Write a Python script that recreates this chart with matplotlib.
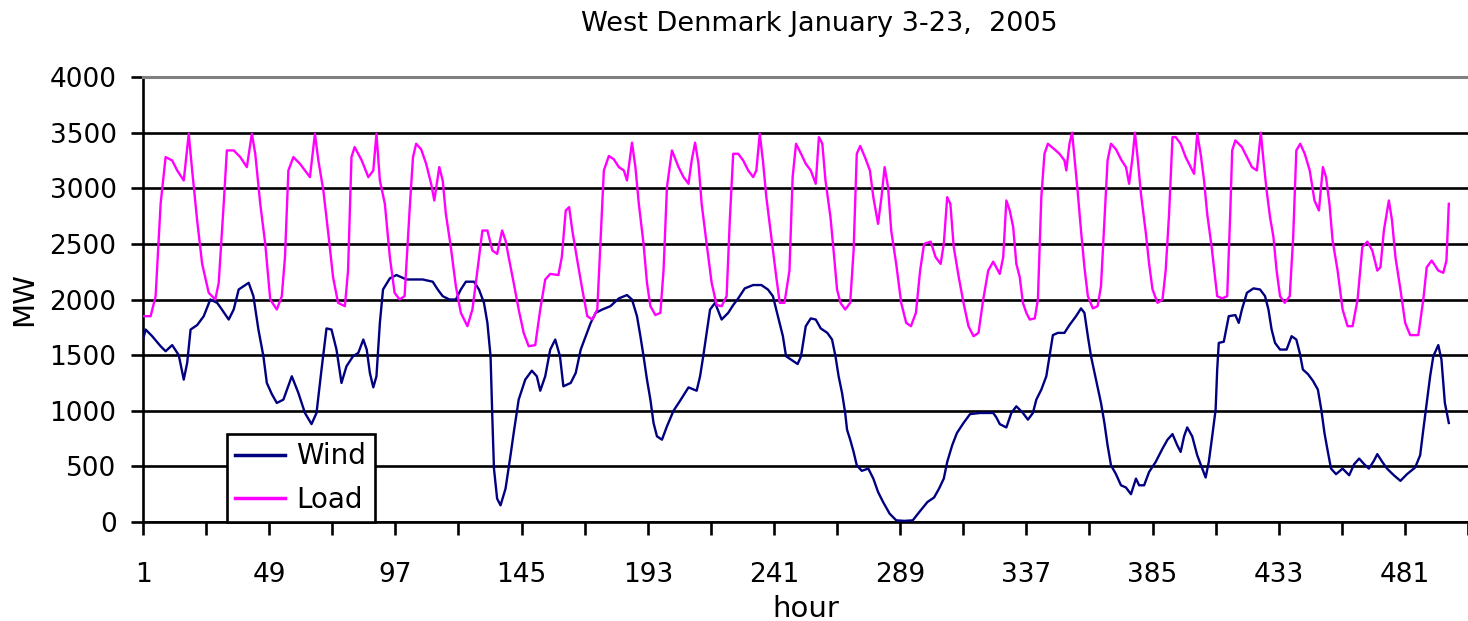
import numpy as np
import matplotlib
matplotlib.use("Agg")
import matplotlib.pyplot as plt

# ==================================================
# DATA
# ==================================================

wind_hours = [
    1, 2, 4.5, 7.7, 9.6, 12.1, 14.6, 16.5, 17.8, 19.1, 21.6, 24.1, 26.6, 29.2, 31, 33.6,
    35.5, 37.4, 41.2, 43, 44.9, 46.8, 48.1, 50, 51.9, 54.4, 57.6, 60.1, 62.6, 65.1, 67,
    68.9, 70.8, 72.7, 74.6, 76.5, 78.4, 80.9, 82.9, 84.8, 86.1, 87.3, 88.6, 89.8, 91.1,
    92.3, 94.9, 97.4, 101.2, 107.4, 111.2, 113.1, 115, 117.5, 120, 121.9, 123.8, 126.9,
    128.8, 130.7, 132, 133.2, 133.9, 134.5, 135.7, 137, 138.9, 140.8, 142, 143.9, 146.4,
    148.9, 150.8, 152.1, 154, 155.9, 157.8, 159.6, 160.9, 163.7, 165.6, 167.5, 169.4,
    171.3, 173.2, 175.7, 178.8, 182, 185.1, 187, 188.9, 190.2, 191.4, 192.7, 194, 195.2,
    196.5, 198.4, 200.3, 202.8, 205.3, 208.5, 211.6, 212.9, 214.1, 215.4, 216.7, 218.6,
    221.1, 223.6, 225.5, 227.4, 229.9, 233.1, 236.2, 238.7, 240.6, 242.5, 244.4, 245.6,
    247.5, 250, 251.3, 253.1, 255, 256.9, 258.8, 261.3, 263.1, 264.4, 265.6, 266.9, 268.1,
    268.8, 270, 271.3, 272.5, 274.4, 276.9, 278.8, 280.6, 282.5, 285, 287.5, 290.6, 293.8,
    296.3, 299.4, 301.9, 303.8, 305.6, 306.9, 308.8, 310.6, 313.1, 315.6, 319.4, 324.4,
    325.6, 326.9, 329.4, 331.3, 333.2, 335.7, 337.6, 339.5, 340.8, 342.7, 344.6, 345.8,
    347.1, 349, 351.5, 353.4, 355.9, 357.8, 359.1, 360.4, 361.6, 363.5, 365.4, 366.7,
    367.9, 369.2, 371.1, 373, 374.9, 376.8, 378.7, 379.9, 381.8, 383.7, 386.2, 388.8,
    390.7, 392.6, 394.4, 395.7, 397, 398.2, 400.1, 402, 403.9, 405.2, 406.4, 407.7, 409,
    409.6, 410.2, 412.1, 414, 416.5, 417.8, 419, 420.9, 423.4, 425.9, 427.8, 429.1, 430.3,
    431.6, 433.5, 436, 437.9, 439.7, 441, 442.2, 444.1, 446, 447.9, 449.2, 450.4, 451.7,
    452.9, 454.8, 457.3, 459.8, 461.7, 463.6, 465.5, 467.3, 469.2, 470.5, 472.4, 474.2,
    476.8, 479.3, 481.8, 484.9, 486.8, 488, 489.3, 490.6, 491.8, 493.7, 494.9, 496.2, 497.7,
]
wind_mw = [
    1640, 1730, 1670, 1580, 1535, 1590, 1500, 1280, 1430, 1730, 1770, 1850, 2000, 1970, 1910, 1820,
    1910, 2090, 2150, 2030, 1730, 1490, 1250, 1150, 1070, 1100, 1310, 1160, 980, 880, 980,
    1370, 1740, 1730, 1550, 1250, 1400, 1490, 1520, 1640, 1550, 1340, 1210, 1310, 1790,
    2090, 2190, 2220, 2180, 2180, 2160, 2090, 2030, 2000, 2000, 2090, 2160, 2160,
    2090, 1970, 1790, 1490, 920, 480, 210, 150, 300, 600, 800, 1100, 1280,
    1360, 1310, 1180, 1310, 1550, 1640, 1490, 1220, 1250, 1340, 1550, 1670,
    1790, 1880, 1910, 1940, 2010, 2040, 2000, 1850, 1670, 1490, 1280, 1100, 890,
    770, 740, 860, 1000, 1090, 1210, 1180, 1310, 1490, 1700, 1910, 1970,
    1820, 1880, 1950, 2010, 2100, 2130, 2130, 2090, 2030, 1850, 1670, 1490,
    1460, 1420, 1490, 1760, 1830, 1820, 1740, 1700, 1640, 1490, 1310, 1160, 980,
    830, 740, 630, 510, 460, 480, 390, 270, 180, 75, 15, 10, 15,
    90, 180, 220, 300, 390, 540, 690, 800, 890, 970, 980, 980,
    940, 880, 850, 980, 1040, 980, 920, 980, 1100, 1190, 1310, 1490,
    1680, 1700, 1700, 1770, 1850, 1920, 1880, 1670, 1490, 1280, 1070, 890,
    690, 510, 430, 330, 310, 250, 390, 330, 330, 450, 540, 660,
    740, 790, 690, 630, 770, 850, 770, 600, 480, 400, 540, 770, 1010,
    1370, 1610, 1620, 1850, 1860, 1790, 1910, 2060, 2100, 2090, 2030, 1910, 1730,
    1610, 1550, 1550, 1670, 1640, 1520, 1370, 1330, 1270, 1190, 1010, 800, 630,
    480, 430, 480, 420, 520, 570, 520, 480, 550, 610, 540, 480,
    420, 370, 430, 490, 600, 830, 1070, 1310, 1490, 1590, 1460, 1070, 890,
]

load_hours = [
    1, 3.9, 5.8, 7.7, 9.6, 12.1, 14, 16.5, 18.4, 19.7, 21.6, 23.5, 26, 28.5, 29.8, 31.7,
    32.9, 35.5, 38, 40.5, 42.4, 43.7, 45.6, 47.5, 49.4, 51.9, 53.8, 55, 56.3, 58.2, 60.7,
    62.6, 64.5, 66.4, 67.7, 69.6, 71.5, 73.3, 75.2, 77.8, 79, 80.3, 81.5, 84.2, 86.7, 88.6,
    89.8, 91.1, 93, 94.9, 96.7, 98.6, 100.5, 102.4, 103.7, 104.9, 106.8, 108.7, 110.6,
    111.8, 113.7, 115, 116.2, 118.1, 120, 121.9, 124.4, 126.3, 128.2, 130.1, 132, 133.9,
    135.7, 137.6, 138.9, 140.1, 142, 143.9, 145.8, 147.7, 150.2, 152.1, 154, 155.9, 159,
    160.3, 161.8, 163.1, 164.3, 166.2, 168.1, 170, 171.9, 173.8, 175.1, 176.3, 178.2,
    180.1, 182, 183.9, 185.1, 187, 188.3, 189.6, 191.4, 192.7, 194, 195.9, 197.8, 199,
    200.3, 202.2, 204.7, 206.6, 208.5, 209.7, 211, 212.3, 213.5, 215.4, 217.3, 219.2,
    221.1, 223, 224.2, 225.5, 227.4, 229.3, 231.2, 233.1, 234.3, 235.6, 236.8, 238.1,
    240, 241.9, 243.2, 245, 246.9, 248.1, 249.4, 251.3, 253.1, 255, 256.9, 258.1, 259.4,
    260.6, 262.5, 263.8, 265, 266.3, 268.1, 270, 271.3, 272.5, 273.8, 275.6, 277.5, 278.8,
    280.6, 281.9, 283.1, 284.4, 285.6, 287.5, 289.4, 291.3, 293.1, 295, 296.6, 298.1,
    300.6, 302.5, 304.4, 305.6, 306.9, 308.1, 309.4, 311.3, 313.1, 315, 316.9, 318.8,
    320.6, 322.5, 324.4, 326.9, 328.2, 329.4, 330.7, 332, 333.2, 334.5, 335.7, 337, 338.3,
    340.2, 341.4, 342.7, 343.9, 345.2, 347.7, 349.6, 351.5, 352.2, 353.4, 354.4, 355.3,
    356.6, 357.8, 359.1, 360.4, 362.3, 364.1, 365.4, 366.7, 367.9, 369.2, 371.1, 373,
    374.9, 376.1, 377.4, 378.3, 379.3, 380.6, 382.5, 383.7, 385, 386.9, 388.8, 390,
    391.3, 392.6, 393.8, 395.7, 397.6, 399.5, 400.8, 402, 403.3, 404.6, 405.8, 407.5,
    409.6, 411.5, 413.4, 414.6, 415.3, 416.5, 419, 420.9, 422.8, 424.7, 426.2, 427.2,
    428.4, 429.7, 431, 432.2, 433.5, 435.3, 437.2, 438.5, 439.7, 441.2, 442.9, 444.8,
    446.6, 448.3, 449.8, 451, 452.3, 453.5, 455.4, 457.3, 459.2, 461.1, 463, 464.8,
    466.7, 468.6, 470.5, 471.7, 473, 474.9, 476.1, 477.4, 479.3, 481.1, 483, 486.1, 488,
    489.3, 491.2, 493.7, 495.6, 496.8, 497.7,
]
load_mw = [
    1850, 1850, 2030, 2860, 3280, 3250, 3160, 3070, 3490, 3160, 2710, 2320, 2060, 2000, 2150, 2860,
    3340, 3340, 3280, 3190, 3490, 3310, 2860, 2500, 2000, 1910, 2030, 2380, 3160, 3280, 3220,
    3160, 3100, 3490, 3250, 2980, 2590, 2200, 1970, 1940, 2260, 3280, 3370, 3250, 3100, 3160,
    3490, 3070, 2860, 2380, 2060, 2000, 2030, 2800, 3280, 3400, 3350, 3220, 3040,
    2890, 3190, 3070, 2770, 2470, 2120, 1880, 1760, 1910, 2260, 2620, 2620, 2440,
    2410, 2620, 2530, 2380, 2150, 1910, 1700, 1580, 1590, 1910, 2180, 2230, 2220,
    2380, 2800, 2830, 2620, 2350, 2090, 1850, 1820, 1910, 2560, 3160, 3290,
    3260, 3190, 3160, 3070, 3410, 3190, 2860, 2500, 2150, 1940, 1860, 1880, 2260,
    3010, 3340, 3190, 3100, 3040, 3250, 3410, 3220, 2860, 2500, 2150, 1950,
    1940, 2030, 2710, 3310, 3310, 3250, 3160, 3100, 3160, 3490, 3250, 2920,
    2560, 2200, 1970, 1970, 2260, 3100, 3400, 3310, 3220, 3160, 3040, 3460, 3400,
    3070, 2740, 2410, 2090, 1970, 1910, 1970, 2440, 3310, 3380, 3280, 3160, 2920,
    2680, 2920, 3190, 3010, 2620, 2320, 1970, 1790, 1760, 1880, 2260, 2500,
    2520, 2380, 2320, 2500, 2920, 2860, 2470, 2200, 1970, 1760, 1670, 1700,
    2000, 2260, 2340, 2230, 2380, 2890, 2800, 2650, 2320, 2200, 1970, 1880, 1820,
    1830, 2000, 2920, 3310, 3400, 3350, 3310, 3250, 3160, 3400, 3500, 3280,
    2950, 2620, 2290, 2030, 1920, 1940, 2120, 2710, 3250, 3400, 3350, 3260,
    3190, 3040, 3280, 3500, 3280, 2950, 2590, 2320, 2090, 1970, 2000, 2260,
    2770, 3460, 3460, 3400, 3280, 3190, 3130, 3490, 3310, 3070, 2770, 2470,
    2030, 2010, 2030, 2800, 3340, 3430, 3370, 3280, 3190, 3160, 3500, 3250,
    2980, 2740, 2560, 2260, 2030, 1970, 2030, 2560, 3340, 3400, 3310, 3160,
    2890, 2800, 3190, 3100, 2860, 2530, 2260, 1910, 1760, 1760, 2000, 2470,
    2520, 2440, 2260, 2290, 2620, 2890, 2710, 2380, 2090, 1790, 1680, 1680, 2000,
    2290, 2350, 2260, 2240, 2350, 2860,
]

x_major = list(range(1, 482, 48))
x_minor = list(range(25, 506, 48))
y_ticks = list(range(0, 4001, 500))

# ==================================================
# PLOT
# ==================================================

fig = plt.figure(figsize=(14.68, 6.21), dpi=100)
ax = fig.add_axes([143 / 1468, 1 - 522 / 621, 1325 / 1468, 445 / 621])

ax.plot(wind_hours, wind_mw, color="#000080", lw=1.7, label="Wind", zorder=3)
ax.plot(load_hours, load_mw, color="#FF00FF", lw=1.7, label="Load", zorder=3)

ax.set_xlim(1, 498)
ax.set_ylim(0, 4000)

ax.set_yticks(y_ticks)
ax.set_xticks(x_major)
ax.set_xticks(x_minor, minor=True)
ax.tick_params(axis="y", direction="out", length=9, width=1.9, labelsize=19, pad=10)
ax.tick_params(axis="x", which="both", direction="out", length=9, width=1.9)
ax.tick_params(axis="x", which="major", labelsize=19, pad=20)

ax.grid(axis="y", color="black", lw=1.9)
ax.set_axisbelow(True)

for side in ["left", "bottom"]:
    ax.spines[side].set_color("black")
    ax.spines[side].set_linewidth(1.9)
ax.spines["top"].set_color("#808080")
ax.spines["top"].set_linewidth(2.2)
ax.spines["right"].set_visible(False)

ax.set_ylabel("MW", fontsize=21, labelpad=8)
ax.set_xlabel("hour", fontsize=21, labelpad=5)
fig.text(0.558, 0.962, "West Denmark January 3-23,  2005", fontsize=19.5,
         ha="center", va="center")

leg = ax.legend(loc="lower left", bbox_to_anchor=(0.0634, 0.0), fontsize=20,
                frameon=True, fancybox=False, handlelength=1.8, handletextpad=0.4,
                borderpad=0.3, labelspacing=0.55, borderaxespad=0)
leg.get_frame().set_edgecolor("black")
leg.get_frame().set_linewidth(1.9)
leg.get_frame().set_alpha(1)
for h in leg.legend_handles:
    h.set_linewidth(2.5)

plt.savefig("out.png", dpi=100)
plt.close()
